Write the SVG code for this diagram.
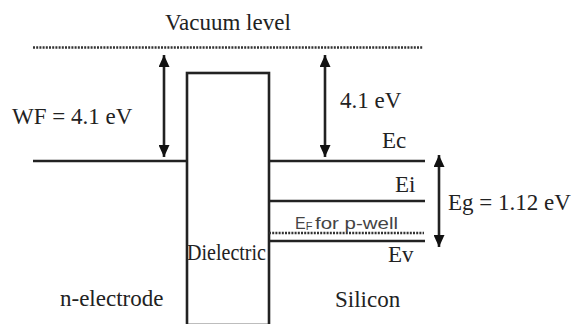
<svg xmlns="http://www.w3.org/2000/svg" width="581" height="324" viewBox="0 0 581 324">
<style>
.ln{stroke:#222;stroke-width:2.6;fill:none}
.dot{stroke:#333;stroke-width:2.4;fill:none;stroke-dasharray:2 1.2}
.ar{stroke:#222;stroke-width:2.6;fill:none;marker-start:url(#ah);marker-end:url(#ah)}
.t{font-family:'Liberation Serif','DejaVu Serif','Times New Roman',serif;fill:#222;font-size:23px}
.s{font-family:'Liberation Sans','DejaVu Sans',Arial,sans-serif;fill:#444;font-size:16px}
</style>
<defs>
<marker id="ah" markerUnits="userSpaceOnUse" markerWidth="13" markerHeight="11" refX="12" refY="5.5" orient="auto-start-reverse">
<path d="M0,0 L12,5.5 L0,11 z" fill="#111"/>
</marker>
</defs>
<rect width="581" height="324" fill="#fff"/>
<g id="vacuum">
<line class="dot" x1="33" y1="47.5" x2="423" y2="47.5"/>
<text class="t" x="165" y="30" font-size="22.5" font-family="Liberation Serif, serif">Vacuum level</text>
</g>
<g id="n-electrode">
<line class="ln" x1="33" y1="161" x2="187" y2="161"/>
<text class="t" x="60" y="306" font-family="Liberation Serif, serif">n-electrode</text>
</g>
<g id="dielectric">
<rect class="ln" x="187" y="73" width="82" height="252"/>
<text class="t" x="187" y="259.5" font-size="19.5" textLength="79" lengthAdjust="spacingAndGlyphs" font-family="Liberation Serif, serif">Dielectric</text>
</g>
<g id="silicon">
<line class="ln" x1="269" y1="161" x2="425" y2="161"/>
<line class="ln" x1="269" y1="201" x2="425" y2="201"/>
<line class="dot" x1="269" y1="233" x2="424" y2="233"/>
<line class="ln" x1="269" y1="241" x2="425" y2="241"/>
<text class="t" x="382" y="148" font-family="Liberation Serif, serif">Ec</text>
<text class="t" x="395" y="192" font-family="Liberation Serif, serif">Ei</text>
<text class="s" x="295" y="228.5">E<tspan font-size="11" dy="1">F</tspan><tspan dy="-1" x="315" textLength="83" lengthAdjust="spacingAndGlyphs">for p-well</tspan></text>
<text class="t" x="388" y="262" font-family="Liberation Serif, serif">Ev</text>
<text class="t" x="335" y="307" font-family="Liberation Serif, serif">Silicon</text>
</g>
<g id="connectors">
<line class="ar" x1="164" y1="55" x2="164" y2="157"/>
<line class="ar" x1="325" y1="55" x2="325" y2="157"/>
<line class="ar" x1="439" y1="155" x2="439" y2="247"/>
</g>
<g id="labels">
<text class="t" x="12" y="124" font-size="23.5" font-family="Liberation Serif, serif">WF = 4.1 eV</text>
<text class="t" x="340" y="108" font-family="Liberation Serif, serif">4.1 eV</text>
<text class="t" x="448" y="210" font-family="Liberation Serif, serif">Eg = 1.12 eV</text>
</g>
</svg>
